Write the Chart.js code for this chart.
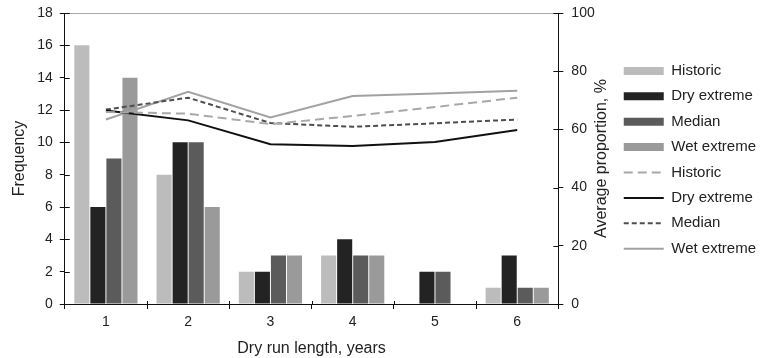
<!DOCTYPE html>
<html>
<head>
<meta charset="utf-8">
<script src="https://cdn.jsdelivr.net/npm/chart.js@4.4.0/dist/chart.umd.min.js"></script>
<style>
  body { margin: 0; background: #fff; }
  #wrap { width: 761px; height: 358px; }
</style>
</head>
<body>
<div id="wrap"><canvas id="runChart" width="761" height="358"></canvas></div>
<script>
const categories = ['1', '2', '3', '4', '5', '6'];

// frequency of dry runs (left axis)
const histFreq = [16, 8, 2, 3, 0, 1];
const dryFreq = [6, 10, 2, 4, 2, 3];
const medianFreq = [9, 10, 3, 3, 2, 1];
const wetFreq = [14, 6, 3, 3, 0, 1];

// average proportion, % (right axis)
const histProp = [66, 65.4, 61.8, 64.6, 67.7, 70.9];
const dryProp = [66.5, 63.1, 54.9, 54.3, 55.7, 59.8];
const medianProp = [66.8, 70.9, 62.2, 60.9, 62.1, 63.4];
const wetProp = [63.4, 72.9, 64.1, 71.5, 72.3, 73.3];

const freqTicks = [0, 2, 4, 6, 8, 10, 12, 14, 16, 18];
const propTicks = [0, 20, 40, 60, 80, 100];

const family = '"Liberation Sans", Arial, sans-serif';
const tickFont = { family: family, size: 14 };
const titleFont = { family: family, size: 16 };
const legendFont = { family: family, size: 15 };
const txt = '#222';

// inner half of the axis ticks + right title that reads bottom-up
const axisExtras = {
  id: 'axisExtras',
  afterDraw(chart) {
    const c = chart.ctx;
    const x = chart.scales.x, y = chart.scales.y, y2 = chart.scales.y2;
    c.save();
    c.strokeStyle = '#111';
    c.lineWidth = 1;
    c.beginPath();
    for (const t of freqTicks) {
      const p = Math.round(y.getPixelForValue(t)) + 0.5;
      c.moveTo(y.right, p); c.lineTo(y.right + 5, p);
    }
    for (const t of propTicks) {
      const p = Math.round(y2.getPixelForValue(t)) + 0.5;
      c.moveTo(y2.left - 5, p); c.lineTo(y2.left, p);
    }
    for (let i = 1; i < categories.length; i++) {
      const p = Math.round((x.getPixelForValue(i - 1) + x.getPixelForValue(i)) / 2) + 0.5;
      c.moveTo(p, x.top - 3); c.lineTo(p, x.top);
    }
    c.stroke();
    c.fillStyle = txt;
    c.font = `${titleFont.size}px ${family}`;
    c.textAlign = 'center';
    c.textBaseline = 'middle';
    c.translate(y2.left + 43, (chart.chartArea.top + chart.chartArea.bottom) / 2);
    c.rotate(-Math.PI / 2);
    c.fillText('Average proportion, %', 0, 0);
    c.restore();
  }
};

const legendItems = function (chart) {
  return chart.data.datasets.map(function (ds, i) {
    const isLine = ds.type === 'line';
    return {
      text: ds.label,
      datasetIndex: i,
      pointStyle: isLine ? 'line' : 'rect',
      fillStyle: isLine ? ds.borderColor : ds.backgroundColor,
      strokeStyle: isLine ? ds.borderColor : ds.backgroundColor,
      lineWidth: isLine ? 2 : 0,
      lineDash: ds.borderDash || [],
      fontColor: txt,
      hidden: false
    };
  });
};

const noTopPad = function (s) { s.paddingTop = 0; };

const ctx = document.getElementById('runChart').getContext('2d');
const chart = new Chart(ctx, {
  type: 'bar',
  data: {
    labels: categories,
    datasets: [
      { label: 'Historic', data: histFreq, backgroundColor: '#bcbcbc', order: 2 },
      { label: 'Dry extreme', data: dryFreq, backgroundColor: '#232323', order: 2 },
      { label: 'Median', data: medianFreq, backgroundColor: '#5b5b5b', order: 2 },
      { label: 'Wet extreme', data: wetFreq, backgroundColor: '#9a9a9a', order: 2 },
      { type: 'line', label: 'Historic', data: histProp, yAxisID: 'y2', borderColor: '#a8a8a8', borderWidth: 2, borderDash: [9, 5], pointRadius: 0, tension: 0, order: 1 },
      { type: 'line', label: 'Dry extreme', data: dryProp, yAxisID: 'y2', borderColor: '#111111', borderWidth: 2, pointRadius: 0, tension: 0, order: 1 },
      { type: 'line', label: 'Median', data: medianProp, yAxisID: 'y2', borderColor: '#4e4e4e', borderWidth: 2, borderDash: [5, 3], pointRadius: 0, tension: 0, order: 1 },
      { type: 'line', label: 'Wet extreme', data: wetProp, yAxisID: 'y2', borderColor: '#a2a2a2', borderWidth: 2, pointRadius: 0, tension: 0, order: 1 }
    ]
  },
  options: {
    responsive: false,
    animation: false,
    layout: { padding: { top: 13, bottom: 0, left: 4, right: -5 } },
    datasets: { bar: { categoryPercentage: 0.78, barPercentage: 0.94 } },
    plugins: {
      tooltip: { enabled: false },
      legend: {
        position: 'right',
        align: 'start',
        maxWidth: 170,
        title: { display: true, text: ' ', font: legendFont, padding: { top: 22, bottom: 0 } },
        labels: {
          usePointStyle: true,
          pointStyleWidth: 40,
          boxHeight: 8,
          padding: 10.4,
          color: txt,
          font: legendFont,
          generateLabels: legendItems
        }
      }
    },
    scales: {
      x: {
        grid: { display: true, drawOnChartArea: false, offset: true, tickLength: 5, color: '#111' },
        border: { color: '#111' },
        ticks: { color: txt, font: tickFont, padding: 5 },
        title: { display: true, text: 'Dry run length, years', color: txt, font: titleFont, padding: { top: 3, bottom: 0 } }
      },
      xTop: {
        position: 'top',
        grid: { display: false, drawTicks: false },
        ticks: { display: false },
        border: { color: '#aaa' }
      },
      y: {
        min: 0, max: 18,
        afterBuildTicks: function (s) { s.ticks = freqTicks.map(v => ({ value: v })); },
        afterFit: noTopPad,
        grid: { drawOnChartArea: false, tickLength: 5, color: '#111' },
        border: { color: '#111' },
        ticks: { color: txt, font: tickFont, padding: 7 },
        title: { display: true, text: 'Frequency', color: txt, font: titleFont, padding: { top: 6, bottom: 1 } }
      },
      y2: {
        position: 'right',
        min: 0, max: 100,
        afterBuildTicks: function (s) { s.ticks = propTicks.map(v => ({ value: v })); },
        afterFit: function (s) { s.width = 55; s.paddingTop = 0; },
        grid: { drawOnChartArea: false, tickLength: 5, color: '#111' },
        border: { color: '#111' },
        ticks: { color: txt, font: tickFont, padding: 8 }
      }
    }
  },
  plugins: [axisExtras]
});
</script>
</body>
</html>
